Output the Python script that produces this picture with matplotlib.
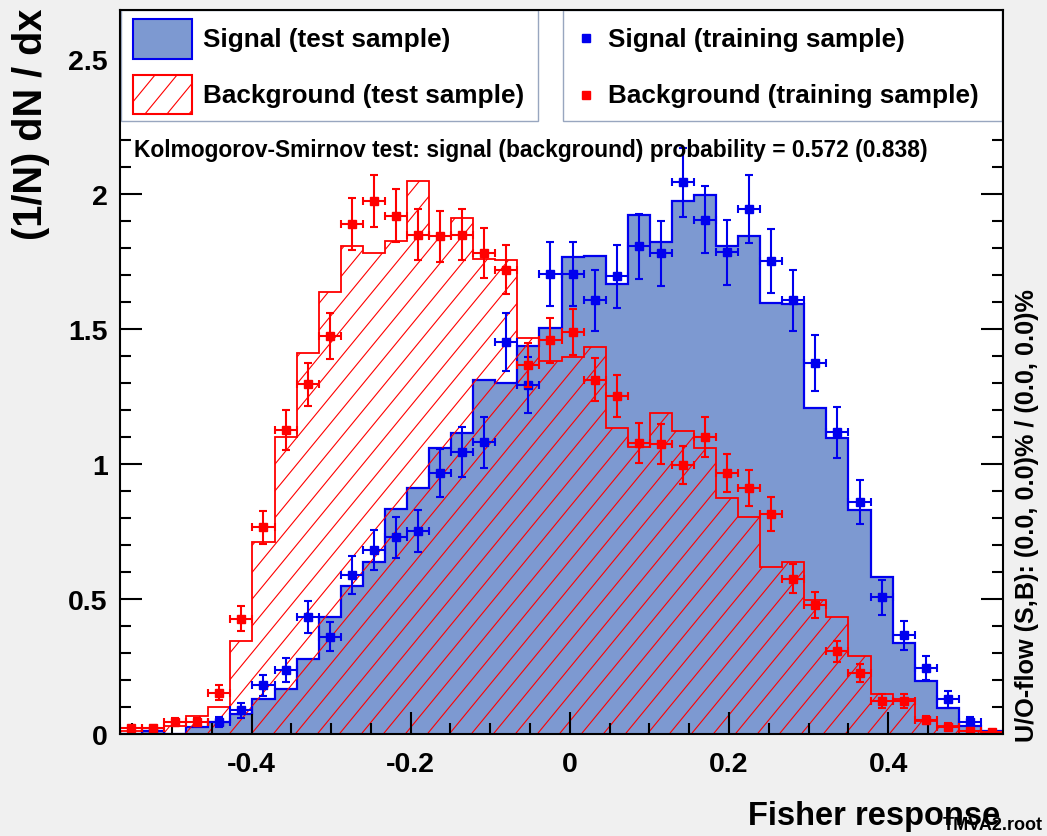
import numpy as np
import matplotlib
matplotlib.use("Agg")
import matplotlib.pyplot as plt
from matplotlib.collections import LineCollection
from matplotlib.patches import Rectangle
from matplotlib.transforms import IdentityTransform
from matplotlib.ticker import MultipleLocator

# ---------------- data ----------------
X_MIN, X_MAX, N_BINS = -0.5653, 0.5443, 40
Y_MAX = 2.68

sig_test = [0.0, 0.012, 0.0, 0.025, 0.043, 0.074, 0.129, 0.166, 0.279, 0.433,
            0.546, 0.635, 0.832, 0.912, 1.058, 1.115, 1.31, 1.30, 1.436, 1.504,
            1.764, 1.771, 1.666, 1.921, 1.821, 1.973, 1.995, 1.805, 1.842, 1.596,
            1.59, 1.206, 1.096, 0.829, 0.583, 0.338, 0.196, 0.095, 0.031, 0.012]

bkg_test = [0.012, 0.010, 0.03, 0.067, 0.10, 0.344, 0.712, 1.099, 1.412, 1.635,
            1.805, 1.78, 1.826, 2.048, 1.842, 1.909, 1.759, 1.756, 1.465, 1.381,
            1.396, 1.434, 1.134, 1.064, 1.187, 1.121, 1.057, 0.872, 0.802, 0.62,
            0.635, 0.495, 0.433, 0.288, 0.147, 0.131, 0.049, 0.031, 0.012, 0.006]

sig_train = [0.0, 0.012, 0.0, 0.0, 0.045, 0.088, 0.18, 0.237, 0.433, 0.36,
             0.589, 0.681, 0.728, 0.753, 0.966, 1.043, 1.08, 1.452, 1.292, 1.703,
             1.703, 1.605, 1.694, 1.805, 1.78, 2.042, 1.903, 1.783, 1.944, 1.75,
             1.605, 1.373, 1.117, 0.859, 0.506, 0.366, 0.245, 0.129, 0.043, 0.0]
sig_train_err = [0.0, 0.010, 0.0, 0.0, 0.019, 0.027, 0.038, 0.044, 0.059, 0.054,
                 0.069, 0.074, 0.077, 0.078, 0.088, 0.092, 0.094, 0.108, 0.102, 0.117,
                 0.117, 0.114, 0.117, 0.121, 0.120, 0.129, 0.124, 0.120, 0.125, 0.119,
                 0.114, 0.105, 0.095, 0.083, 0.064, 0.054, 0.045, 0.032, 0.019, 0.0]

bkg_train = [0.021, 0.022, 0.043, 0.044, 0.153, 0.427, 0.765, 1.126, 1.295, 1.473,
             1.888, 1.973, 1.919, 1.848, 1.842, 1.848, 1.78, 1.719, 1.365, 1.457,
             1.488, 1.311, 1.25, 1.078, 1.074, 0.997, 1.099, 0.966, 0.912, 0.813,
             0.575, 0.476, 0.307, 0.227, 0.123, 0.123, 0.052, 0.027, 0.010, 0.006]
bkg_train_err = [0.010, 0.010, 0.015, 0.015, 0.027, 0.046, 0.061, 0.074, 0.080, 0.085,
                 0.096, 0.098, 0.097, 0.095, 0.095, 0.095, 0.093, 0.092, 0.082, 0.084,
                 0.085, 0.080, 0.078, 0.073, 0.073, 0.070, 0.073, 0.069, 0.067, 0.063,
                 0.053, 0.048, 0.039, 0.033, 0.025, 0.025, 0.016, 0.012, 0.007, 0.005]

x_ticks = [-0.4, -0.2, 0.0, 0.2, 0.4]
x_tick_labels = ["-0.4", "-0.2", "0", "0.2", "0.4"]
y_ticks = [0, 0.5, 1, 1.5, 2, 2.5]
y_tick_labels = ["0", "0.5", "1", "1.5", "2", "2.5"]

legend_labels = ["Signal (test sample)", "Background (test sample)",
                 "Signal (training sample)", "Background (training sample)"]
ks_text = "Kolmogorov-Smirnov test: signal (background) probability = 0.572 (0.838)"
x_title = "Fisher response"
y_title = "(1/N) dN / dx"
uo_text = "U/O-flow (S,B): (0.0, 0.0)% / (0.0, 0.0)%"
file_text = "TMVA2.root"

# ---------------- styling ----------------
plt.rcParams['font.family'] = ['Liberation Sans', 'DejaVu Sans']
plt.rcParams['font.weight'] = 'bold'

SIG_FILL = '#7d99d1'
SIG_LINE = '#0000ee'
BKG_LINE = '#ff0000'
BG = '#f0f0f0'

W, H = 1047, 837
fig = plt.figure(figsize=(W / 100, H / 100), dpi=100, facecolor=BG)


def fx(px):
    return px / W


def fy(py):
    return 1 - py / H


AX_L, AX_R, AX_T, AX_B = 120, 1003, 11, 735
ax = fig.add_axes([fx(AX_L), fy(AX_B), (AX_R - AX_L) / W, (AX_B - AX_T) / H])
ax.set_facecolor('white')

edges = np.linspace(X_MIN, X_MAX, N_BINS + 1)
centers = 0.5 * (edges[:-1] + edges[1:])
halfw = 0.5 * (edges[1] - edges[0])

sig_test_a = np.array(sig_test)
bkg_test_a = np.array(bkg_test)

ax.stairs(sig_test_a, edges, fill=True, facecolor=SIG_FILL, edgecolor='none', lw=0, zorder=1.0)
ax.stairs(sig_test_a, edges, baseline=0, color=SIG_LINE, lw=1.6, zorder=1.1)
bkg_patch = ax.stairs(bkg_test_a, edges, fill=True, facecolor='none', edgecolor='none', lw=0, zorder=1.2)


def hatch_lines(x0, y0, x1, y1, spacing=22.0, angle=50.6):
    s = np.tan(np.deg2rad(angle))
    h = y1 - y0
    segs = []
    for c in np.arange(x0 - h / s - spacing, x1 + spacing, spacing):
        segs.append([(c, y0), (c + h / s, y1)])
    return segs


# hatch of background histogram (display/pixel coordinates, clipped to histogram)
bb = ax.get_window_extent()
lc = LineCollection(hatch_lines(bb.x0, bb.y0, bb.x1, bb.y1), colors=BKG_LINE,
                    linewidths=0.8, transform=IdentityTransform(), zorder=1.2)
ax.add_collection(lc, autolim=False)
lc.set_clip_path(bkg_patch)

ax.stairs(bkg_test_a, edges, baseline=0, color=BKG_LINE, lw=1.3, zorder=1.3)

sig_tr = np.array(sig_train)
sig_er = np.array(sig_train_err)
bkg_tr = np.array(bkg_train)
bkg_er = np.array(bkg_train_err)
ms = sig_tr > 0
mb = bkg_tr > 0
ax.errorbar(centers[ms], sig_tr[ms], xerr=halfw, yerr=sig_er[ms], fmt='s', color=SIG_LINE,
            ms=6, elinewidth=1.5, capsize=3.2, capthick=1.5, zorder=2.0)
ax.errorbar(centers[mb], bkg_tr[mb], xerr=halfw, yerr=bkg_er[mb], fmt='s', color=BKG_LINE,
            ms=6, elinewidth=1.5, capsize=3.2, capthick=1.5, zorder=2.1)

ax.set_xlim(X_MIN, X_MAX)
ax.set_ylim(0, Y_MAX)

TICK_FS = 20.5
ax.set_xticks(x_ticks, x_tick_labels)
ax.set_yticks(y_ticks, y_tick_labels)
ax.xaxis.set_minor_locator(MultipleLocator(0.05))
ax.yaxis.set_minor_locator(MultipleLocator(0.1))
ax.tick_params(which='both', direction='in', top=True, right=True, width=1.5, color='black')
ax.tick_params(which='major', length=16)
ax.tick_params(which='minor', length=8)
ax.tick_params(axis='x', which='major', pad=12, labelsize=TICK_FS)
ax.tick_params(axis='y', which='major', pad=9, labelsize=TICK_FS)
for lab in ax.get_xticklabels() + ax.get_yticklabels():
    lab.set_fontweight('bold')
for sp in ax.spines.values():
    sp.set_linewidth(1.5)

# ---------------- legends (drawn as boxes inside the frame) ----------------
LEG_FS = 18.8
ax.add_patch(Rectangle((fx(121), fy(122)), (538 - 121) / W, (122 - 11) / H,
                       transform=fig.transFigure, facecolor='white', edgecolor='#98a6bf',
                       lw=1.0, zorder=2.3, clip_on=False))
ax.add_patch(Rectangle((fx(563), fy(122)), (1002 - 563) / W, (122 - 11) / H,
                       transform=fig.transFigure, facecolor='white', edgecolor='#98a6bf',
                       lw=1.0, zorder=2.3, clip_on=False))

ax.add_patch(Rectangle((fx(133), fy(60)), (192 - 133) / W, (60 - 20) / H,
                       transform=fig.transFigure, facecolor=SIG_FILL, edgecolor=SIG_LINE,
                       lw=1.5, zorder=2.35, clip_on=False))
sw = Rectangle((fx(133), fy(115)), (192 - 133) / W, (115 - 76) / H,
               transform=fig.transFigure, facecolor='white', edgecolor=BKG_LINE,
               lw=1.5, zorder=2.37, clip_on=False)
ax.add_patch(sw)
sw_bg = Rectangle((fx(133), fy(115)), (192 - 133) / W, (115 - 76) / H,
                  transform=fig.transFigure, facecolor='white', edgecolor='none',
                  lw=0, zorder=2.34, clip_on=False)
ax.add_patch(sw_bg)
sw.set_facecolor('none')
lc2 = LineCollection(hatch_lines(133, H - 115, 192, H - 76), colors=BKG_LINE,
                     linewidths=0.8, transform=IdentityTransform(), zorder=2.36)
ax.add_collection(lc2, autolim=False)
lc2.set_clip_path(sw_bg)

ax.text(fx(203), fy(40), legend_labels[0], transform=fig.transFigure, fontsize=LEG_FS,
        fontweight='bold', va='center', ha='left', zorder=3)
ax.text(fx(203), fy(96), legend_labels[1], transform=fig.transFigure, fontsize=LEG_FS,
        fontweight='bold', va='center', ha='left', zorder=3)

ax.plot([fx(586)], [fy(39)], 's', color=SIG_LINE, ms=5.5, transform=fig.transFigure,
        zorder=2.4, clip_on=False)
ax.plot([fx(586)], [fy(96)], 's', color=BKG_LINE, ms=5.5, transform=fig.transFigure,
        zorder=2.4, clip_on=False)
ax.text(fx(608), fy(40), legend_labels[2], transform=fig.transFigure, fontsize=LEG_FS,
        fontweight='bold', va='center', ha='left', zorder=3)
ax.text(fx(608), fy(96), legend_labels[3], transform=fig.transFigure, fontsize=LEG_FS,
        fontweight='bold', va='center', ha='left', zorder=3)

# KS text
ax.text(fx(134), fy(150), ks_text, transform=fig.transFigure, fontsize=16.4,
        fontweight='bold', va='center', ha='left', zorder=3)

# axis titles and annotations
fig.text(fx(1000), fy(825), x_title, fontsize=23.5, fontweight='bold', ha='right', va='baseline')
fig.text(fx(31), fy(9), y_title, fontsize=28.5, fontweight='bold', ha='center', va='top', rotation=90)
fig.text(fx(1027), fy(516), uo_text, fontsize=18.2, fontweight='bold', ha='center', va='center',
         rotation=90)
fig.text(fx(943), fy(826), file_text, fontsize=13, fontweight='bold', ha='left', va='center')

fig.savefig('out.png', dpi=100, facecolor=BG)
